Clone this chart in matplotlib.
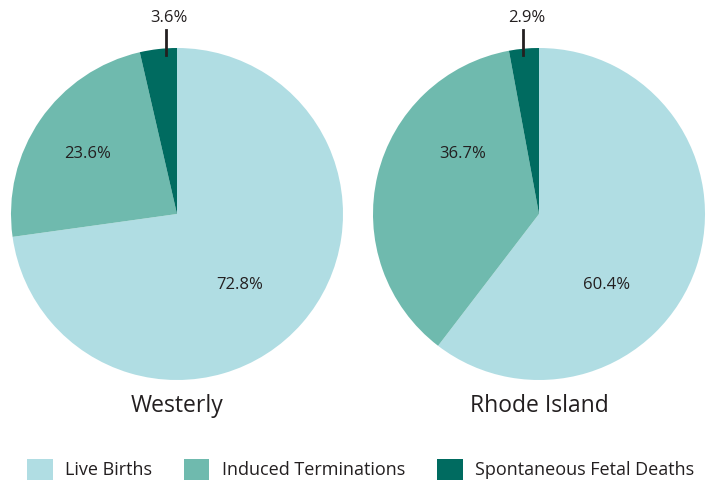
import matplotlib
matplotlib.use('Agg')
import matplotlib.pyplot as plt

plt.rcParams['font.family'] = ['Open Sans', 'DejaVu Sans']

CATEGORIES = ['Live Births', 'Induced Terminations', 'Spontaneous Fetal Deaths']
WESTERLY = [72.8, 23.6, 3.6]
RHODE_ISLAND = [60.4, 36.7, 2.9]
TITLES = ['Westerly', 'Rhode Island']
COLORS = ['#b0dde3', '#6fbaae', '#006b60']

W, H = 721, 483


def draw_pie(ax, values, title, big_pos, mid_pos, tick_x):
    wedges, _ = ax.pie(values, colors=COLORS, startangle=90, counterclock=False,
                       radius=1.0, wedgeprops={'linewidth': 0})
    ax.set_xlim(-1, 1)
    ax.set_ylim(-1, 1)
    ax.set_aspect('equal')
    ax.axis('off')
    ax.text(big_pos[0], big_pos[1], '%.1f%%' % values[0], ha='center', va='center',
            fontsize=12, color='#231f20')
    ax.text(mid_pos[0], mid_pos[1], '%.1f%%' % values[1], ha='center', va='center',
            fontsize=12, color='#231f20')
    # small slice label with leader line
    ax.plot([tick_x, tick_x], [0.96, 1.11], color='#231f20', lw=2, clip_on=False)
    ax.text(tick_x + 0.02, 1.18, '%.1f%%' % values[2], ha='center', va='center',
            fontsize=12, color='#231f20', clip_on=False)
    ax.text(0, -1.155, title, ha='center', va='center', fontsize=16.5,
            color='#231f20', clip_on=False)
    return wedges


def main():
    fig = plt.figure(figsize=(W / 100, H / 100), dpi=100)
    r = 166
    ax1 = fig.add_axes([(177 - r) / W, (H - 214 - r) / H, 2 * r / W, 2 * r / H])
    ax2 = fig.add_axes([(539 - r) / W, (H - 214 - r) / H, 2 * r / W, 2 * r / H])

    wedges = draw_pie(ax1, WESTERLY, TITLES[0], (0.38, -0.43), (-0.54, 0.36), -0.066)
    draw_pie(ax2, RHODE_ISLAND, TITLES[1], (0.41, -0.43), (-0.46, 0.36), -0.096)

    fig.legend(wedges, CATEGORIES, loc='lower center', bbox_to_anchor=(0.5, -0.012),
               ncol=3, frameon=False, fontsize=13, handlelength=1.4,
               handleheight=1.4, handletextpad=0.67, columnspacing=1.8,
               borderpad=0, labelcolor='#231f20')

    fig.savefig('out.png', dpi=100)


if __name__ == '__main__':
    main()
